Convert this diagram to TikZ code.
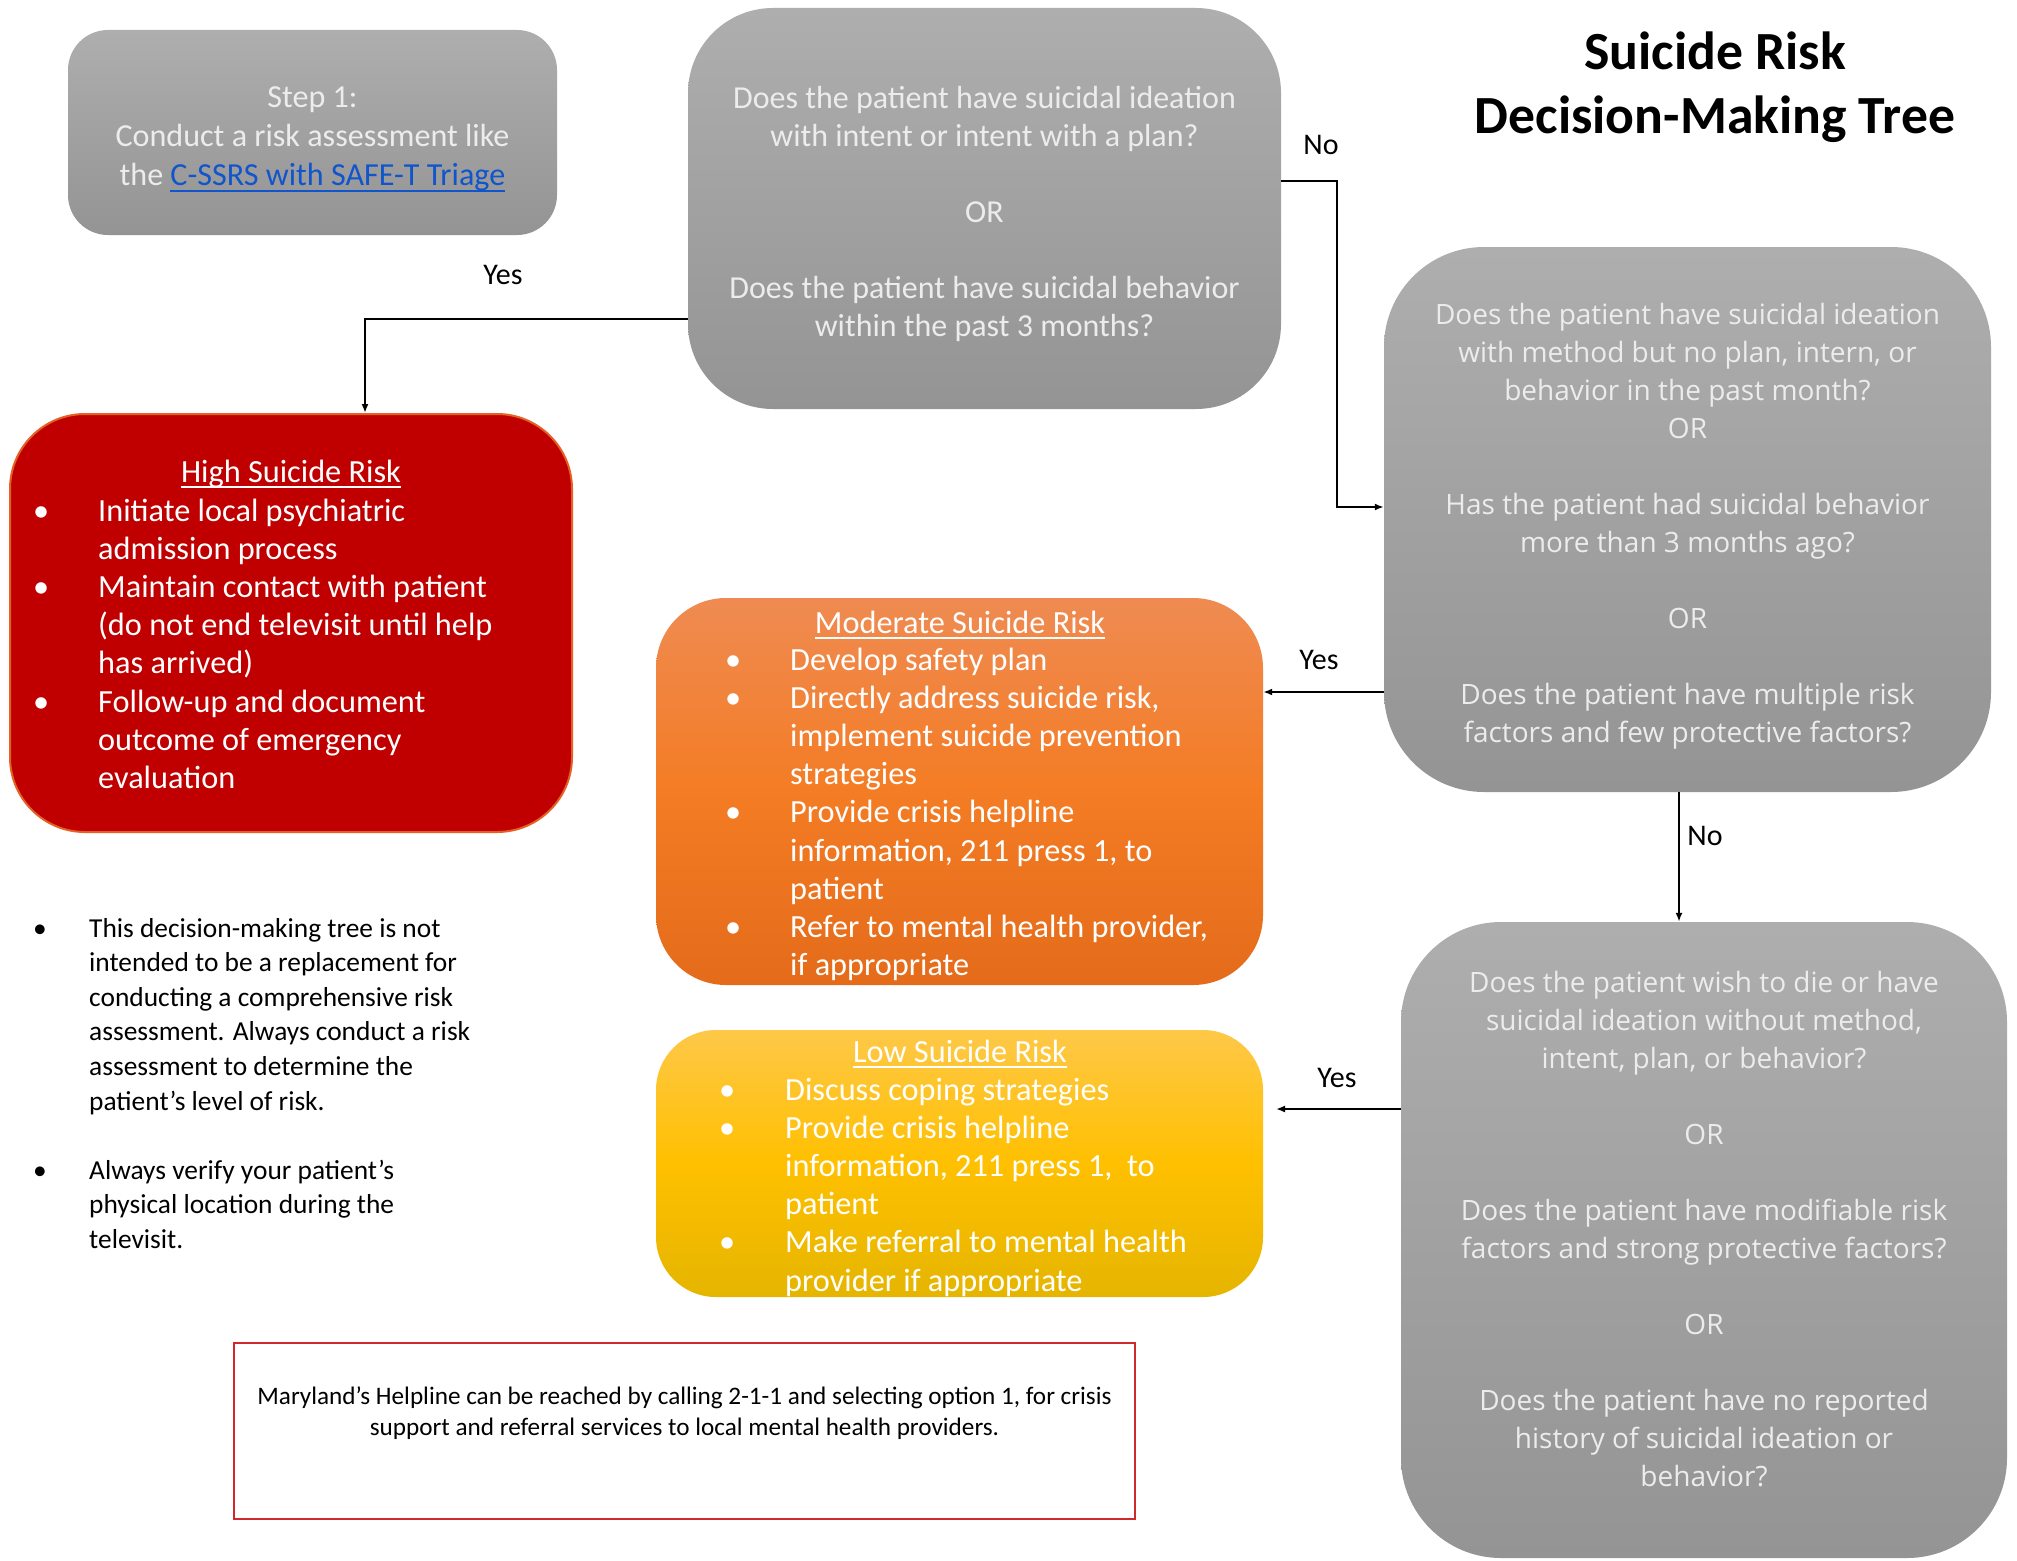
\documentclass[tikz,border=0pt]{standalone}
\usepackage{fontspec}
\setmainfont{Carlito}
\newfontfamily\qfont{Open Sans}
\usetikzlibrary{arrows.meta,positioning}

\newlength{\ulwd}
\newcommand{\ultext}[1]{\settowidth{\ulwd}{#1}\rlap{\rule[-6pt]{\ulwd}{1.6pt}}#1}

\definecolor{greytop}{RGB}{174,174,174}
\definecolor{greybot}{RGB}{148,148,148}
\definecolor{greytext}{RGB}{236,236,236}
\definecolor{highred}{RGB}{192,0,0}
\definecolor{highedge}{RGB}{228,96,36}
\definecolor{modtop}{RGB}{239,139,82}
\definecolor{modmid}{RGB}{244,124,36}
\definecolor{modbot}{RGB}{228,107,26}
\definecolor{lowtop}{RGB}{254,200,72}
\definecolor{lowmid}{RGB}{255,192,0}
\definecolor{lowbot}{RGB}{229,181,0}
\definecolor{linkblue}{RGB}{17,85,204}
\definecolor{helpred}{RGB}{208,40,46}

\begin{document}
\begin{tikzpicture}[x=1pt,y=-1pt,
  greybox/.style={shade,top color=greytop,bottom color=greybot,inner sep=0pt,text=greytext,align=center},
  riskbox/.style={inner sep=0pt},
  risktitle/.style={anchor=base,inner sep=0pt,text=white,font=\fontsize{32.3}{38}\selectfont},
  risklist/.style={anchor=base west,inner sep=0pt,text=white,font=\fontsize{32.3}{38.2}\selectfont},
  lbl/.style={inner sep=0pt,font=\fontsize{30}{36}\selectfont},
  arr/.style={-{Latex[length=9pt,width=7pt]},line width=1.8pt}]
\useasboundingbox (0,0) rectangle (2017,1560);
\fill[white] (0,0) rectangle (2017,1560);

\node[inner sep=0pt,align=center,font=\fontsize{53.7}{64}\selectfont\bfseries] (title) at (1715,87) {Suicide Risk\\Decision-Making Tree};

\node[greybox,minimum width=489,minimum height=205,rounded corners=40,font=\fontsize{32.1}{39}\selectfont] (step) at (312.5,132.5)
  {\rule{0pt}{34pt}Step 1:\\Conduct a risk assessment like\\the \textcolor{linkblue}{\ultext{C-SSRS with SAFE-T Triage}}};

\node[greybox,minimum width=593,minimum height=401,rounded corners=85,font=\fontsize{32}{38}\selectfont] (q1) at (984.5,208.5)
  {\rule{0pt}{33pt}Does the patient have suicidal ideation\\with intent or intent with a plan?\\[38pt]OR\\[38pt]Does the patient have suicidal behavior\\within the past 3 months?};

\node[greybox,minimum width=607,minimum height=545,rounded corners=100,font=\qfont\fontsize{28}{38}\selectfont] (q2) at (1687.5,519.5)
  {\rule{0pt}{34pt}Does the patient have suicidal ideation\\with method but no plan, intern, or\\behavior in the past month?\\OR\\[38pt]Has the patient had suicidal behavior\\more than 3 months ago?\\[38pt]OR\\[38pt]Does the patient have multiple risk\\factors and few protective factors?};

\node[greybox,minimum width=606,minimum height=636,rounded corners=100,font=\qfont\fontsize{28}{38}\selectfont] (q3) at (1704,1240)
  {Does the patient wish to die or have\\suicidal ideation without method,\\intent, plan, or behavior?\\[38pt]OR\\[38pt]Does the patient have modifiable risk\\factors and strong protective factors?\\[38pt]OR\\[38pt]Does the patient have no reported\\history of suicidal ideation or\\behavior?\rule[-23pt]{0pt}{23pt}};

\node[riskbox,fill=highred,draw=highedge,line width=2pt,minimum width=562,minimum height=418,rounded corners=75] (high) at (291,623) {};
\node[risktitle] (hightitle) at (291,482) {\ultext{High Suicide Risk}};
\node[risklist] (highlist) at (33,521) {\begin{tabular}[t]{@{}p{65pt}@{}l@{}}
\textbullet & Initiate local psychiatric\\
 & admission process\\
\textbullet & Maintain contact with patient\\
 & (do not end televisit until help\\
 & has arrived)\\
\textbullet & Follow-up and document\\
 & outcome of emergency\\
 & evaluation
\end{tabular}};

\node[riskbox,shade,top color=modtop,bottom color=modbot,middle color=modmid,minimum width=607,minimum height=387,rounded corners=70] (mod) at (959.5,791.5) {};
\node[risktitle] (modtitle) at (960,633) {\ultext{Moderate Suicide Risk}};
\node[risklist] (modlist) at (725,670) {\begin{tabular}[t]{@{}p{65pt}@{}l@{}}
\textbullet & Develop safety plan\\
\textbullet & Directly address suicide risk,\\
 & implement suicide prevention\\
 & strategies\\
\textbullet & Provide crisis helpline\\
 & information, 211 press 1, to\\
 & patient\\
\textbullet & Refer to mental health provider,\\
 & if appropriate
\end{tabular}};

\node[riskbox,shade,top color=lowtop,bottom color=lowbot,middle color=lowmid,minimum width=607,minimum height=267,rounded corners=60] (low) at (959.5,1163.5) {};
\node[risktitle] (lowtitle) at (960,1062) {\ultext{Low Suicide Risk}};
\node[risklist] (lowlist) at (719,1100) {\begin{tabular}[t]{@{}p{66pt}@{}l@{}}
\textbullet & Discuss coping strategies\\
\textbullet & Provide crisis helpline\\
 & information, 211 press 1,~ to\\
 & patient\\
\textbullet & Make referral to mental health\\
 & provider if appropriate
\end{tabular}};

\node[anchor=base west,inner sep=0pt,font=\fontsize{27.4}{34.6}\selectfont] (notes) at (33,937) {\begin{tabular}[t]{@{}p{56pt}@{}l@{}}
\textbullet & This decision-making tree is not\\
 & intended to be a replacement for\\
 & conducting a comprehensive risk\\
 & assessment. Always conduct a risk\\
 & assessment to determine the\\
 & patient’s level of risk.\\
 & \\
\textbullet & Always verify your patient’s\\
 & physical location during the\\
 & televisit.
\end{tabular}};

\node[draw=helpred,line width=2pt,minimum width=901,minimum height=176,inner sep=0pt] (helpbox) at (684.5,1431) {};
\node[below=45pt of helpbox.north,inner sep=0pt,align=center,font=\fontsize{25.2}{31}\selectfont] (helptext)
  {Maryland’s Helpline can be reached by calling 2-1-1 and selecting option 1, for crisis\\support and referral services to local mental health providers.};

\coordinate (yesbend) at (365,319);
\coordinate (nobend) at (1337,181);
\coordinate (nojoin) at (1337,507);
\coordinate (modlevel) at (1320,692);
\coordinate (nodown) at (1679,820);
\coordinate (lowtip) at (1276,1109);

\draw[arr] (q1.west |- yesbend) -- (yesbend) -- (yesbend |- high.north);
\draw[arr] (q1.east |- nobend) -- (nobend) -- (nojoin) -- (q2.west |- nojoin);
\draw[arr] (q2.west |- modlevel) -- (mod.east |- modlevel);
\draw[arr] (q2.south -| nodown) -- (q3.north -| nodown);
\draw[arr] (q3.west |- lowtip) -- (lowtip);

\node[lbl] (yestop) at (503,275) {Yes};
\node[lbl] (notop) at (1321,145) {No};
\node[lbl] (yesmod) at (1319,660) {Yes};
\node[lbl] (nolow) at (1705,836) {No};
\node[lbl] (yeslow) at (1337,1078) {Yes};
\end{tikzpicture}
\end{document}
